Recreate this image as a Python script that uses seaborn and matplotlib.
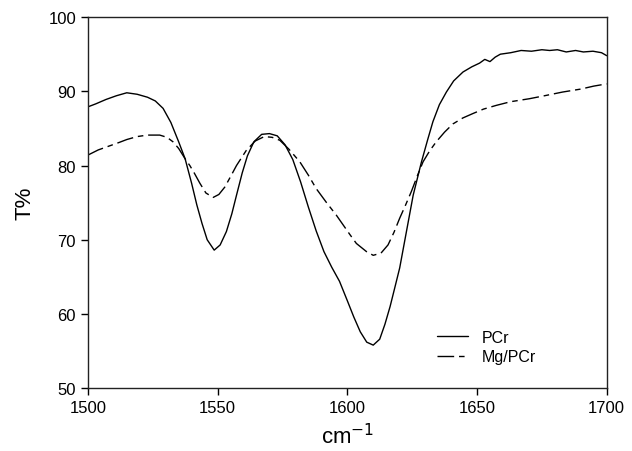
import pandas as pd
import matplotlib.pyplot as plt
import seaborn as sns

# ---- data ----
wn_pcr = [1500, 1503, 1507, 1511, 1515, 1519, 1523, 1526, 1529, 1532, 1535,
          1537.5, 1540, 1542, 1544, 1546, 1548.7, 1551, 1553.4, 1555.5, 1557.3,
          1559.5, 1561.5, 1564, 1567, 1570, 1573, 1576, 1579, 1582, 1585, 1588,
          1591, 1594, 1597, 1600, 1602.5, 1605, 1607.5, 1610, 1612.5, 1614.5,
          1616.5, 1618.5, 1620.2, 1622.8, 1625.4, 1628.6, 1631, 1633, 1635.5,
          1638.2, 1641, 1644.6, 1648, 1651, 1653, 1655, 1657, 1659, 1663, 1667,
          1671, 1675, 1678, 1681, 1684.4, 1688, 1691, 1694.7, 1698, 1700]
t_pcr = [87.9, 88.3, 88.9, 89.4, 89.8, 89.6, 89.2, 88.7, 87.7, 85.8, 83.2,
         80.9, 77.6, 74.7, 72.2, 70.0, 68.6, 69.3, 71.1, 73.5, 76.0,
         79.0, 81.3, 83.2, 84.2, 84.3, 84.0, 82.8, 80.8, 77.8, 74.4, 71.2,
         68.4, 66.3, 64.4, 61.8, 59.6, 57.6, 56.2, 55.8, 56.6, 58.6,
         61.0, 63.8, 66.2, 71.1, 76.0, 80.5, 83.5, 85.9, 88.2,
         89.9, 91.4, 92.6, 93.3, 93.8, 94.3, 94.0, 94.6, 95.0, 95.2, 95.5,
         95.4, 95.6, 95.5, 95.6, 95.3, 95.5, 95.3, 95.4, 95.2, 94.8]

wn_mg = [1500, 1504, 1508, 1512, 1515, 1519, 1523, 1527.7, 1530.5, 1532.8,
         1535, 1537.5, 1539.3, 1541, 1543.2, 1545.5, 1548.3, 1550.5, 1552.8,
         1555, 1557.3, 1561, 1564.5, 1568, 1571, 1574, 1577.5, 1581.7, 1585,
         1588, 1592, 1595.8, 1598.4, 1601, 1603.5, 1607.4, 1610, 1613, 1615.7,
         1618, 1620.2, 1622.5, 1624.7, 1627, 1629.2, 1631.8, 1634.3, 1637.5,
         1640.7, 1644.5, 1648.4, 1652.5, 1657.4, 1663, 1670.2, 1676, 1683,
         1690, 1695, 1700]
t_mg = [81.4, 82.1, 82.6, 83.1, 83.5, 83.9, 84.1, 84.1, 83.8, 83.2,
        82.3, 80.9, 80.0, 79.0, 77.6, 76.3, 75.7, 76.1, 77.1,
        78.5, 80.0, 82.0, 83.3, 83.9, 83.8, 83.4, 82.2, 80.5, 78.7,
        76.9, 75.0, 73.3, 72.0, 70.7, 69.5, 68.4, 67.9, 68.2, 69.3,
        71.0, 72.9, 74.7, 76.5, 78.6, 80.5, 82.0, 83.2, 84.5,
        85.6, 86.4, 87.0, 87.6, 88.1, 88.6, 89.0, 89.4, 89.9,
        90.3, 90.7, 91.0]

x_ticks = [1500, 1550, 1600, 1650, 1700]
y_ticks = [50, 60, 70, 80, 90, 100]

df_pcr = pd.DataFrame({"wn": wn_pcr, "T": t_pcr})
df_mg = pd.DataFrame({"wn": wn_mg, "T": t_mg})

sns.set_style("ticks")
plt.rcParams["font.family"] = ["Liberation Sans", "DejaVu Sans"]
plt.rcParams["text.color"] = "black"
plt.rcParams["axes.labelcolor"] = "black"
plt.rcParams["xtick.color"] = "black"
plt.rcParams["ytick.color"] = "black"

fig, ax = plt.subplots(figsize=(6.32, 4.52), dpi=100)
fig.subplots_adjust(left=0.139, right=0.960, top=0.960, bottom=0.139)

sns.lineplot(data=df_pcr, x="wn", y="T", ax=ax, color="black",
             linewidth=1.0, label="PCr", sort=False)
sns.lineplot(data=df_mg, x="wn", y="T", ax=ax, color="black",
             linewidth=1.0, label="Mg/PCr", sort=False)
ax.lines[1].set_dashes([12, 3.5, 4, 3.5])

ax.set_xlim(1500, 1700)
ax.set_ylim(50, 100)
ax.set_xticks(x_ticks)
ax.set_yticks(y_ticks)
ax.tick_params(axis="both", labelsize=12, length=5, width=1,
               colors="black", direction="out", top=False, right=False)
for s in ax.spines.values():
    s.set_visible(True)
    s.set_linewidth(1.0)
    s.set_color("#222222")

ax.set_xlabel("cm$^{-1}$", fontsize=16, labelpad=6)
ax.set_ylabel("T%", fontsize=16, labelpad=9)

leg = ax.legend(loc="upper left", bbox_to_anchor=(0.672, 0.158),
                frameon=False, fontsize=11.5, handlelength=2.0,
                handletextpad=0.8, labelspacing=0.3,
                borderaxespad=0, borderpad=0)
leg.get_lines()[1].set_dashes([12, 3.5, 4, 3.5])

fig.savefig("out.png", dpi=100)
